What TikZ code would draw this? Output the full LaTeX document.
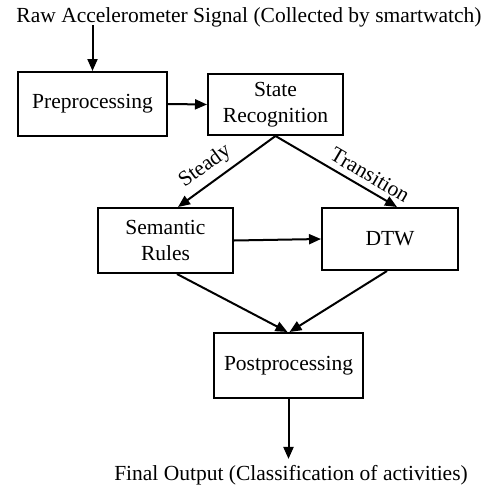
\documentclass[tikz,border=0pt]{standalone}
\usepackage{fontspec}
\setmainfont{Liberation Serif}
\usetikzlibrary{arrows.meta,positioning,calc}
\begin{document}
\begin{tikzpicture}[x=1pt,y=-1pt,
  every node/.style={font=\fontsize{21.5}{26}\selectfont},
  box/.style={draw,line width=2pt,inner sep=0pt,align=center},
  conn/.style={line width=2pt,-{Triangle[length=12pt,width=10pt]}},
  plain/.style={inner sep=0pt}]
\useasboundingbox (0,0) rectangle (487,493);
\node[plain] (raw) at (249,17) {Raw Accelerometer Signal (Collected by smartwatch)};
\node[box,minimum width=149pt,minimum height=64pt] (pre) at (92.5,104) {Preprocessing};
\node[box,minimum width=135pt,minimum height=61pt] (state) at (275.5,104.5) {State\\Recognition};
\node[box,minimum width=135pt,minimum height=65pt] (sem) at (165.5,240.5) {Semantic\\Rules};
\node[box,minimum width=136pt,minimum height=62pt] (dtw) at (390,239) {DTW};
\node[box,minimum width=149pt,minimum height=65pt] (post) at (288.5,365.5) {Postprocessing};
\node[plain] (final) at (291,475) {Final Output (Classification of activities)};
\coordinate (rawend) at ($(pre.north |- raw.south)+(0,-2)$);
\draw[conn] (rawend) -- (pre.north);
\draw[conn] (pre.east) -- (state.west);
\draw[conn] (state.south) -- node[plain,sloped,above=6pt,pos=0.62] {Steady} ([xshift=12.5pt]sem.north);
\draw[conn] (state.south) -- node[plain,sloped,above=6pt,pos=0.72] {Transition} ([xshift=7pt]dtw.north);
\draw[conn] (sem.east) -- (dtw.west);
\draw[conn] ([xshift=11.5pt]sem.south) -- ([xshift=-1pt]post.north);
\draw[conn] ([xshift=-3pt]dtw.south) -- ([xshift=1pt]post.north);
\coordinate (finalend) at ($(post.south |- final.north)+(0,-6)$);
\draw[conn] (post.south) -- (finalend);
\end{tikzpicture}
\end{document}
